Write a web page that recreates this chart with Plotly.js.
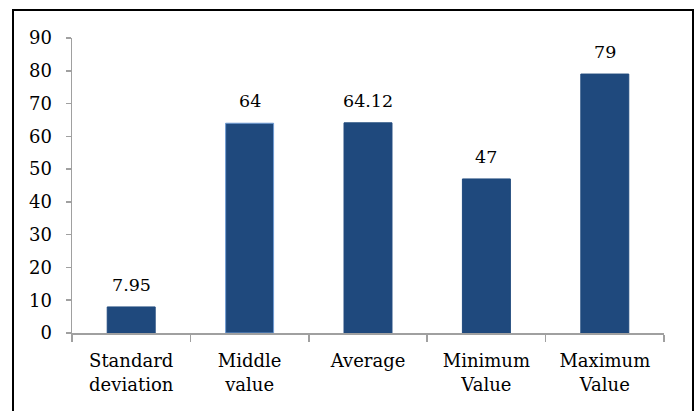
<!DOCTYPE html>
<html>
<head>
<meta charset="utf-8">
<script src="https://cdn.plot.ly/plotly-3.0.1.min.js"></script>
<style>
html,body{margin:0;padding:0;background:#fff;}
#chart{width:697px;height:411px;}
</style>
</head>
<body>
<div id="chart"></div>
<script>
var categories = ["Standard<br>deviation", "Middle<br>value", "Average", "Minimum<br>Value", "Maximum<br>Value"];
var values = [7.95, 64, 64.12, 47, 79];
var labels = ["7.95", "64", "64.12", "47", "79"];
var outlineColors = ["#1f497d", "#6f9bd3", "#1f497d", "#1f497d", "#1f497d"];

var barColor = "#1f497d";
var fontFamily = "DejaVu Serif, Liberation Serif, serif";

var trace = {
  type: "bar",
  x: categories,
  y: values,
  marker: {color: barColor, line: {color: outlineColors, width: 1}},
  hoverinfo: "none"
};

var annotations = categories.map(function (c, i) {
  return {
    x: c, y: values[i], xref: "x", yref: "y",
    text: labels[i], showarrow: false,
    yanchor: "bottom", yshift: 10,
    font: {family: fontFamily, size: 17.5, color: "#000"}
  };
});

var layout = {
  width: 697, height: 411,
  margin: {l: 72, r: 33, t: 38, b: 78},
  paper_bgcolor: "#fff", plot_bgcolor: "#fff",
  showlegend: false,
  bargap: 0.595,
  font: {family: fontFamily, size: 18, color: "#000"},
  xaxis: {
    type: "category",
    showline: true, linecolor: "#a0a0a0", linewidth: 1.5,
    ticks: "outside", tickson: "boundaries", ticklen: 7, tickcolor: "#a0a0a0", tickwidth: 1.5,
    ticklabelstandoff: 11,
    showgrid: false, zeroline: false,
    tickfont: {family: fontFamily, size: 18, color: "#000"}
  },
  yaxis: {
    range: [0, 90], dtick: 10, tick0: 0,
    showline: true, linecolor: "#a0a0a0", linewidth: 1.5,
    ticks: "outside", ticklen: 5, tickcolor: "#a0a0a0", tickwidth: 1.5,
    ticklabelstandoff: 10,
    showgrid: false, zeroline: false,
    tickfont: {family: fontFamily, size: 18, color: "#000"}
  },
  annotations: annotations,
  shapes: [{
    type: "rect", xref: "paper", yref: "paper",
    x0: (13 - 72) / 592, x1: (693 - 72) / 592,
    y0: (333 - 420) / 295, y1: (333 - 10) / 295,
    line: {color: "#000", width: 2}, fillcolor: "rgba(0,0,0,0)", layer: "above"
  }]
};

Plotly.newPlot("chart", [trace], layout, {staticPlot: true, displayModeBar: false});
</script>
</body>
</html>
